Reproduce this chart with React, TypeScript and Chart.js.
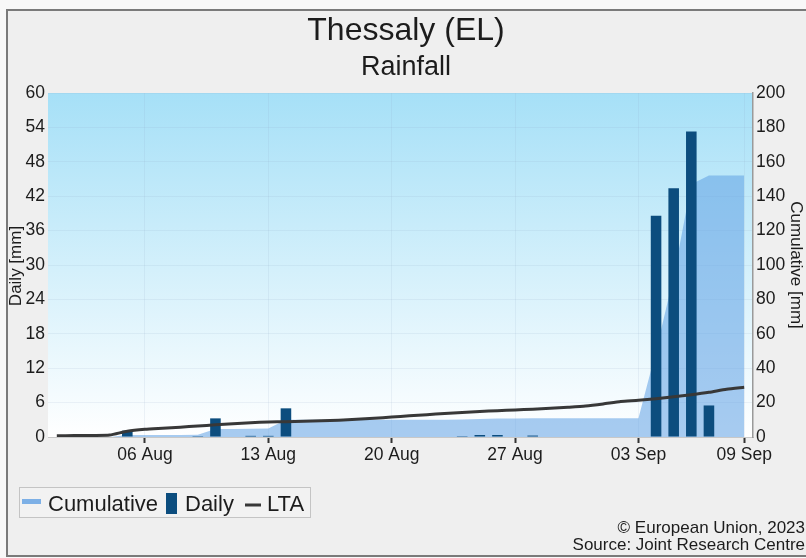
import React, { useEffect, useRef } from "react";
import { Chart, registerables } from "chart.js";

Chart.register(...registerables);

// ---- DATA ----
const dates = [
  "01 Aug", "02 Aug", "03 Aug", "04 Aug", "05 Aug", "06 Aug", "07 Aug", "08 Aug", "09 Aug", "10 Aug",
  "11 Aug", "12 Aug", "13 Aug", "14 Aug", "15 Aug", "16 Aug", "17 Aug", "18 Aug", "19 Aug", "20 Aug",
  "21 Aug", "22 Aug", "23 Aug", "24 Aug", "25 Aug", "26 Aug", "27 Aug", "28 Aug", "29 Aug", "30 Aug",
  "31 Aug", "01 Sep", "02 Sep", "03 Sep", "04 Sep", "05 Sep", "06 Sep", "07 Sep", "08 Sep", "09 Sep",
];

const xTickLabels = ["06 Aug", "13 Aug", "20 Aug", "27 Aug", "03 Sep", "09 Sep"];

const daily = [
  0, 0, 0, 0, 1.1, 0, 0, 0, 0.15, 3.25,
  0, 0.2, 0.2, 5.0, 0, 0, 0, 0, 0, 0,
  0, 0, 0, 0.15, 0.35, 0.35, 0, 0.25, 0, 0,
  0, 0, 0, 0, 38.6, 43.4, 53.3, 5.5, 0, 0,
];

const cumulative = [
  0, 0, 0, 0, 1.1, 1.1, 1.1, 1.1, 1.3, 4.6,
  4.6, 4.8, 5.0, 10.0, 10.0, 10.0, 10.0, 10.0, 10.0, 10.0,
  10.0, 10.0, 10.0, 10.2, 10.5, 10.8, 10.8, 10.9, 10.9, 10.9,
  10.9, 10.9, 10.9, 10.9, 50.0, 93.5, 147.0, 152.0, 152.0, 152.0,
];

const lta = [
  0.7, 0.8, 0.9, 1.1, 3.4, 4.5, 5.1, 5.7, 6.4, 7.1,
  7.7, 8.3, 8.7, 8.9, 9.1, 9.4, 9.8, 10.3, 10.9, 11.6,
  12.3, 13.0, 13.7, 14.3, 14.8, 15.3, 15.7, 16.2, 16.7, 17.3,
  18.0, 19.2, 20.6, 21.3, 22.3, 23.4, 24.6, 26.0, 27.8, 28.9,
];

const dailyAxis = { min: 0, max: 60, step: 6 };
const cumulativeAxis = { min: 0, max: 200, step: 20 };

const titleText = "Thessaly (EL)";
const subtitleText = "Rainfall";
const dailyAxisTitle = "Daily [mm]";
const cumulativeAxisTitle = "Cumulative [mm]";
const legendLabels = ["Cumulative", "Daily", "LTA"];
const footerLines = ["© European Union, 2023", "Source: Joint Research Centre"];

// ---- STYLE ----
const FONT = "'Liberation Sans', Arial, Helvetica, sans-serif";
const W = 806;
const H = 558;
const CUM_FILL = "rgba(95,160,228,0.55)";
const CUM_LEGEND = "#7db0e6";
const DAILY_COLOR = "#0c4d7e";
const LTA_COLOR = "#383838";
const TEXT_COLOR = "#1c1c1c";
const GRID_COLOR = "rgba(140,165,190,0.13)";

const decorPlugin = {
  id: "decor",
  beforeDraw(chart: any) {
    const { ctx, chartArea } = chart;
    ctx.save();
    ctx.fillStyle = "#f8f8f8";
    ctx.fillRect(0, 0, W, H);
    ctx.fillStyle = "#efefef";
    ctx.fillRect(7, 10, W - 7, 546);
    ctx.strokeStyle = "#7a7a7a";
    ctx.lineWidth = 2;
    ctx.beginPath();
    ctx.moveTo(W + 2, 10);
    ctx.lineTo(7, 10);
    ctx.lineTo(7, 556);
    ctx.lineTo(W + 2, 556);
    ctx.stroke();
    const g = ctx.createLinearGradient(0, chartArea.top, 0, chartArea.bottom);
    g.addColorStop(0, "#a6e0f7");
    g.addColorStop(1, "#ffffff");
    ctx.fillStyle = g;
    ctx.fillRect(chartArea.left, chartArea.top, chartArea.right - chartArea.left, chartArea.bottom - chartArea.top);
    ctx.restore();
  },
  afterDraw(chart: any) {
    const { ctx } = chart;
    ctx.save();
    ctx.fillStyle = TEXT_COLOR;
    ctx.textAlign = "center";
    ctx.textBaseline = "alphabetic";
    ctx.font = `32px ${FONT}`;
    ctx.fillText(titleText, 406, 40);
    ctx.font = `27px ${FONT}`;
    ctx.fillText(subtitleText, 406, 75);

    // axis titles
    ctx.font = `17px ${FONT}`;
    ctx.textBaseline = "middle";
    ctx.save();
    ctx.translate(16, 266);
    ctx.rotate(-Math.PI / 2);
    ctx.fillText(dailyAxisTitle, 0, 0);
    ctx.restore();
    ctx.save();
    ctx.translate(796, 265);
    ctx.rotate(Math.PI / 2);
    ctx.fillText(cumulativeAxisTitle, 0, 0);
    ctx.restore();

    // legend
    ctx.fillStyle = "#f2f2f2";
    ctx.fillRect(19.5, 487.5, 291, 30);
    ctx.strokeStyle = "#c4c4c4";
    ctx.lineWidth = 1;
    ctx.strokeRect(19.5, 487.5, 291, 30);
    ctx.fillStyle = CUM_LEGEND;
    ctx.fillRect(22, 499, 19, 5);
    ctx.fillStyle = DAILY_COLOR;
    ctx.fillRect(166, 493, 11, 21);
    ctx.fillStyle = LTA_COLOR;
    ctx.fillRect(245, 503.5, 16, 3);
    ctx.fillStyle = TEXT_COLOR;
    ctx.textAlign = "left";
    ctx.textBaseline = "alphabetic";
    ctx.font = `22px ${FONT}`;
    ctx.fillText(legendLabels[0], 48, 511);
    ctx.fillText(legendLabels[1], 185, 511);
    ctx.fillText(legendLabels[2], 267, 511);

    // footer
    ctx.textAlign = "right";
    ctx.font = `17px ${FONT}`;
    ctx.fillText(footerLines[0], 805, 533);
    ctx.fillText(footerLines[1], 805, 550);
    ctx.restore();
  },
};

const isShown = (i: number) => xTickLabels.includes(dates[i]);

export default function App() {
  const ref = useRef<HTMLCanvasElement | null>(null);

  useEffect(() => {
    if (!ref.current) return;
    const chart = new Chart(ref.current, {
      type: "bar",
      data: {
        labels: dates,
        datasets: [
          {
            type: "line",
            label: legendLabels[2],
            data: lta,
            yAxisID: "y1",
            borderColor: LTA_COLOR,
            borderWidth: 3,
            pointRadius: 0,
            tension: 0.2,
            fill: false,
            order: 0,
          } as any,
          {
            type: "bar",
            label: legendLabels[1],
            data: daily,
            yAxisID: "y",
            backgroundColor: DAILY_COLOR,
            barPercentage: 0.6,
            categoryPercentage: 1.0,
            order: 1,
          } as any,
          {
            type: "line",
            label: legendLabels[0],
            data: cumulative,
            yAxisID: "y1",
            borderWidth: 0,
            borderColor: "rgba(0,0,0,0)",
            backgroundColor: CUM_FILL,
            pointRadius: 0,
            tension: 0,
            fill: "origin",
            order: 2,
          } as any,
        ],
      },
      options: {
        responsive: false,
        animation: false,
        devicePixelRatio: 1,
        events: [],
        layout: { padding: { top: 93, left: 0, right: 0, bottom: 0 } },
        plugins: {
          legend: { display: false },
          title: { display: false },
          tooltip: { enabled: false },
        },
        scales: {
          x: {
            type: "category",
            offset: true,
            grid: {
              offset: false,
              drawOnChartArea: true,
              color: (c: any) => (isShown(c.index) ? GRID_COLOR : "rgba(0,0,0,0)"),
              tickColor: (c: any) => (isShown(c.index) ? "#333333" : "rgba(0,0,0,0)"),
              tickLength: 6,
              tickWidth: 2,
              lineWidth: 1,
            },
            border: { display: true, color: "#c8c8c8", width: 1 },
            ticks: {
              autoSkip: false,
              maxRotation: 0,
              minRotation: 0,
              padding: 2,
              color: TEXT_COLOR,
              font: { family: FONT, size: 17.5 },
              callback: (_v: any, i: number) => (isShown(i) ? dates[i] : ""),
            },
            afterFit: (s: any) => {
              s.height = 121;
            },
          },
          y: {
            type: "linear",
            position: "left",
            min: dailyAxis.min,
            max: dailyAxis.max,
            grid: { color: GRID_COLOR, drawTicks: false, lineWidth: 1 },
            border: { display: false },
            ticks: {
              stepSize: dailyAxis.step,
              padding: 3,
              color: TEXT_COLOR,
              font: { family: FONT, size: 17.5 },
            },
            afterFit: (s: any) => {
              s.width = 48;
            },
          },
          y1: {
            type: "linear",
            position: "right",
            min: cumulativeAxis.min,
            max: cumulativeAxis.max,
            grid: { drawOnChartArea: false, drawTicks: false },
            border: { display: true, color: "#9a9a9a", width: 1.5 },
            ticks: {
              stepSize: cumulativeAxis.step,
              padding: 3,
              color: TEXT_COLOR,
              font: { family: FONT, size: 17.5 },
            },
            afterFit: (s: any) => {
              s.width = 53;
            },
          },
        },
      } as any,
      plugins: [decorPlugin],
    });
    return () => chart.destroy();
  }, []);

  return (
    <div style={{ position: "fixed", left: 0, top: 0, width: W, height: H }}>
      <canvas ref={ref} width={W} height={H} style={{ display: "block", width: W, height: H }} />
    </div>
  );
}
